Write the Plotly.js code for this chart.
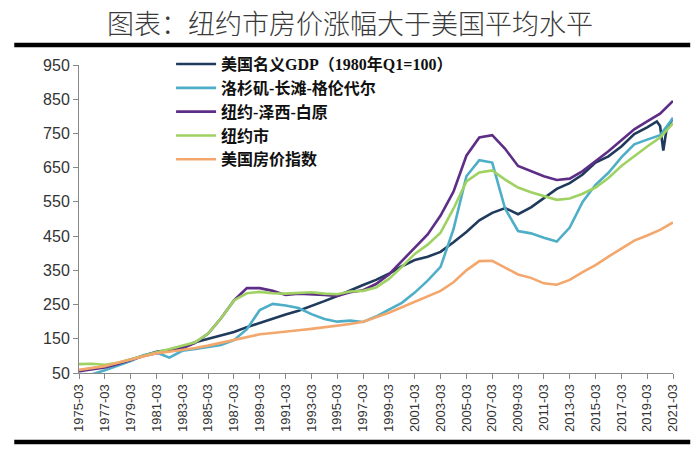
<!DOCTYPE html>
<html>
<head>
<meta charset="utf-8">
<script src="https://cdn.plot.ly/plotly-3.0.1.min.js"></script>
<style>html,body{margin:0;padding:0;background:#fff;}#chart{width:700px;height:450px;}</style>
</head>
<body>
<div id="chart"></div>
<script>
// Annual (Q1) observation points
const years = [1975,1976,1977,1978,1979,1980,1981,1982,1983,1984,1985,1986,1987,1988,1989,1990,1991,1992,1993,1994,1995,1996,1997,1998,1999,2000,2001,2002,2003,2004,2005,2006,2007,2008,2009,2010,2011,2012,2013,2014,2015,2016,2017,2018,2019,2020,2021];

// GDP includes quarterly detail around 2020
const gdpX = [1975,1976,1977,1978,1979,1980,1981,1982,1983,1984,1985,1986,1987,1988,1989,1990,1991,1992,1993,1994,1995,1996,1997,1998,1999,2000,2001,2002,2003,2004,2005,2006,2007,2008,2009,2010,2011,2012,2013,2014,2015,2016,2017,2018,2019,2019.75,2020,2020.25,2020.5,2020.75,2021];
const gdpIndex = [57,63,70,78,89,100,112,117,125,140,150,160,170,184,197,210,221,232,245,260,275,292,307,322,340,362,380,390,404,432,462,496,518,532,514,534,562,588,605,630,665,683,712,748,768,785,772,700,762,778,795];

const laLongBeach = [47,46,58,72,85,102,110,95,115,120,125,132,146,178,234,252,247,240,222,208,200,203,199,215,235,255,285,320,360,470,625,672,665,530,465,458,445,434,475,550,600,635,680,718,732,745,795];
const nyNjWhitePlains = [55,60,66,76,88,100,108,114,122,138,165,210,262,298,298,290,278,282,281,278,275,286,292,310,338,378,415,455,510,580,685,738,745,705,655,640,625,614,618,640,668,698,730,762,785,808,845];
const nyCity = [76,77,74,80,90,100,110,118,128,140,165,210,262,283,287,283,282,285,286,282,280,288,290,300,325,360,398,425,460,530,610,636,642,615,592,578,566,556,560,574,592,620,655,684,712,738,780];
const usHpi = [59,64,70,80,90,100,108,112,117,123,130,138,148,156,163,167,170,175,179,183,188,193,200,212,226,242,258,272,290,315,350,377,378,358,338,328,312,308,322,345,365,390,413,437,452,468,490];

const seriesNames = ["美国名义GDP（1980年Q1=100）","洛杉矶-长滩-格伦代尔","纽约-泽西-白原","纽约市","美国房价指数"];
const seriesColors = ["#1f3a5c","#4eaec8","#5e2d86","#9fd262","#f3a76c"];

const tickVals = [1975,1977,1979,1981,1983,1985,1987,1989,1991,1993,1995,1997,1999,2001,2003,2005,2007,2009,2011,2013,2015,2017,2019,2021];
const tickLabels = ["1975-03","1977-03","1979-03","1981-03","1983-03","1985-03","1987-03","1989-03","1991-03","1993-03","1995-03","1997-03","1999-03","2001-03","2003-03","2005-03","2007-03","2009-03","2011-03","2013-03","2015-03","2017-03","2019-03","2021-03"];
const yTicks = [50,150,250,350,450,550,650,750,850,950];

const xs = [gdpX, years, years, years, years];
const ys = [gdpIndex, laLongBeach, nyNjWhitePlains, nyCity, usHpi];

const traces = seriesNames.map((n, i) => ({
  type: "scatter", mode: "lines", name: n, x: xs[i], y: ys[i],
  line: {color: seriesColors[i], width: 2.6}
}));

const layout = {
  width: 700, height: 450,
  margin: {l: 79, r: 27, t: 65, b: 77},
  paper_bgcolor: "#ffffff", plot_bgcolor: "#ffffff",
  showlegend: true,
  title: {
    text: "图表：纽约市房价涨幅大于美国平均水平",
    x: 0.5, xanchor: "center", xref: "container",
    y: 0.946, yanchor: "middle", yref: "container",
    font: {family: "Noto Sans CJK SC, sans-serif", size: 27, color: "#3a3a3a", weight: 300}
  },
  xaxis: {
    range: [1975, 2021], autorange: false,
    tickmode: "array", tickvals: tickVals, ticktext: tickLabels,
    tickangle: -90, ticks: "outside", ticklen: 5, tickcolor: "#888",
    showline: true, linecolor: "#888", linewidth: 1,
    showgrid: false, zeroline: false,
    tickfont: {family: "Liberation Sans, Arial, sans-serif", size: 13, color: "#333"}
  },
  yaxis: {
    range: [50, 950], autorange: false,
    tickmode: "array", tickvals: yTicks,
    ticks: "outside", ticklen: 5, tickcolor: "#888",
    showline: true, linecolor: "#888", linewidth: 1,
    showgrid: false, zeroline: false,
    tickfont: {family: "Liberation Sans, Arial, sans-serif", size: 16, color: "#333"}
  },
  legend: {
    x: 0.155, y: 1.058, xanchor: "left", yanchor: "top",
    bgcolor: "rgba(0,0,0,0)", borderwidth: 0,
    tracegroupgap: 0, itemwidth: 40,
    font: {family: "Liberation Serif, Noto Sans CJK SC, serif", size: 16, color: "#111", weight: "bold"}
  },
  shapes: [
    {type: "line", xref: "paper", yref: "paper", x0: -0.109, x1: 1.029, y0: 1.065, y1: 1.065, line: {color: "#000", width: 4.5}},
    {type: "line", xref: "paper", yref: "paper", x0: -0.109, x1: 1.029, y0: -0.224, y1: -0.224, line: {color: "#000", width: 4.5}}
  ]
};

Plotly.newPlot("chart", traces, layout, {displayModeBar: false, staticPlot: true});
</script>
</body>
</html>
